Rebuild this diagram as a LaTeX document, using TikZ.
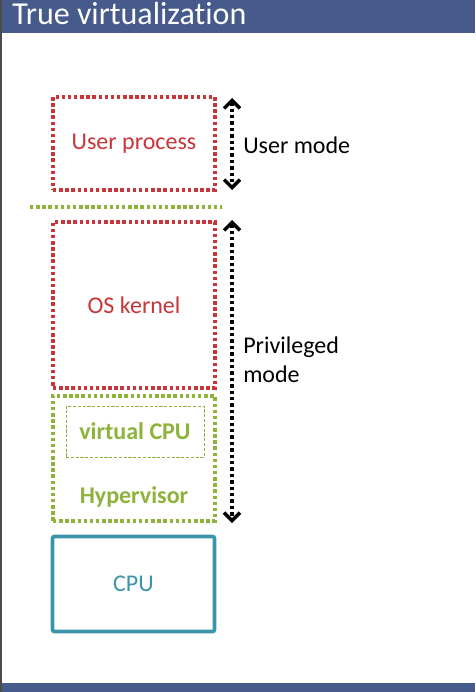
\documentclass[tikz,border=0pt]{standalone}
\usepackage{fontspec}
\setmainfont[Ligatures=NoCommon]{Carlito}
\usetikzlibrary{arrows.meta}
\definecolor{barblue}{HTML}{465A8C}
\definecolor{kred}{HTML}{C8363A}
\definecolor{hgreen}{HTML}{8DB33A}
\definecolor{cputeal}{HTML}{3D94AA}
\begin{document}
\begin{tikzpicture}[x=0.75pt,y=-0.75pt,
  redbox/.style={draw=kred,line width=2.6pt,dash pattern=on 2.6pt off 2pt,inner sep=0},
  greenbox/.style={draw=hgreen,line width=2.6pt,dash pattern=on 2.6pt off 2pt,inner sep=0},
  thinbox/.style={draw=hgreen,line width=0.6pt,dash pattern=on 2.4pt off 1.2pt,inner sep=0},
  lbl/.style={font=\fontsize{18}{21.5}\selectfont},
  blbl/.style={font=\fontsize{18}{21.5}\selectfont\bfseries},
  modearrow/.style={draw=black,line width=2.6pt,dash pattern=on 2.6pt off 2.2pt,
    {Straight Barb[length=6pt,width=12pt,line width=2.6pt]}-{Straight Barb[length=6pt,width=12pt,line width=2.6pt]}}]
\useasboundingbox (0,0) rectangle (475,692);
\fill[white] (0,0) rectangle (475,692);
\fill[barblue] (0,0) rectangle (475,33);
\fill[barblue] (0,683) rectangle (475,692);
\fill[black!70] (0,0) rectangle (2,692);
\node[anchor=base west,text=white,font=\fontsize{24}{29}\selectfont,inner sep=0] (title) at (12,25) {True virtualization};

\node[redbox,minimum width=121.5pt,minimum height=69.75pt] (user) at (134,143.5) {};
\node[lbl,text=kred] (usertxt) at (user.center) {User process};

\coordinate (gl) at (30,207);
\coordinate (gr) at (222,207);
\draw[greenbox] (gl) -- (gr);

\node[redbox,minimum width=121.5pt,minimum height=124.5pt] (os) at (134,305) {};
\node[lbl,text=kred] (ostxt) at (os.center) {OS kernel};

\node[greenbox,minimum width=121.5pt,minimum height=93.75pt] (hyp) at (134,458.5) {};
\node[thinbox,minimum width=103.5pt,minimum height=38.25pt] (vcpu) at (135,431.5) {};
\node[blbl,text=hgreen] (vcputxt) at (vcpu.center) {virtual CPU};
\node[blbl,text=hgreen] (hyptxt) at (134,497) {Hypervisor};

\node[draw=cputeal,line width=2.8pt,rounded corners=1.5pt,minimum width=121.5pt,minimum height=71.25pt,inner sep=0] (cpu) at (133.5,584) {};
\node[lbl,text=cputeal] (cputxt) at (cpu.center) {CPU};

\coordinate (a1t) at (232,98);
\coordinate (a1b) at (232,190);
\coordinate (a2t) at (232,220);
\coordinate (a2b) at (232,523);
\draw[modearrow] (a1t) -- (a1b);
\draw[modearrow] (a2t) -- (a2b);

\node[lbl,anchor=west,inner sep=0] (umode) at (243,145) {User mode};
\node[lbl,anchor=west,align=left,inner sep=0] (pmode) at (243,360) {Privileged\\mode};
\end{tikzpicture}
\end{document}
